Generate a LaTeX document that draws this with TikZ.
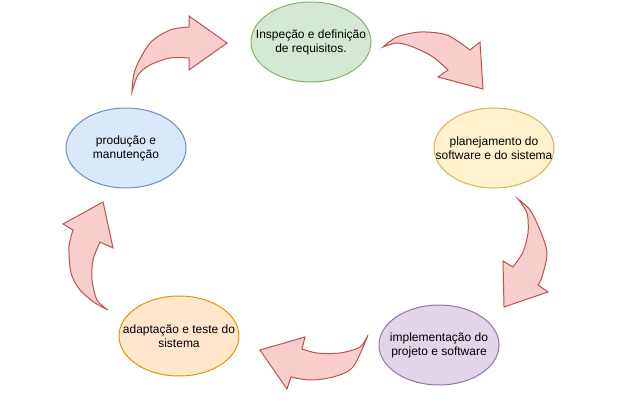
\documentclass[tikz,border=0pt]{standalone}
\usepackage{fontspec}
\setmainfont{Liberation Sans}
\usepackage{xcolor}
\usepackage{tikz}
\usetikzlibrary{shapes}
\usetikzlibrary{shapes.geometric}

\definecolor{greenfill}{HTML}{D5E8D4}
\definecolor{greenline}{HTML}{82B366}
\definecolor{yellowfill}{HTML}{FFF2CC}
\definecolor{yellowline}{HTML}{D6B656}
\definecolor{purplefill}{HTML}{E1D5E7}
\definecolor{purpleline}{HTML}{9673A6}
\definecolor{orangefill}{HTML}{FFE6CC}
\definecolor{orangeline}{HTML}{D79B00}
\definecolor{bluefill}{HTML}{DAE8FC}
\definecolor{blueline}{HTML}{6C8EBF}
\definecolor{arrowfill}{HTML}{F8CECC}
\definecolor{arrowline}{HTML}{B85450}

\begin{document}
\begin{tikzpicture}[
	x=0.75pt, y=-0.75pt,
	line width=0.75pt,
	font=\fontsize{9}{10.5}\selectfont
]
\tikzset{
    phase/.style = {ellipse, draw, inner sep=0pt, minimum width=90pt, minimum height=60pt},
    phasetext/.style = {align=center, inner sep=0pt},
    bigarrow/.style = {fill=arrowfill, draw=arrowline, line join=miter}
}
\useasboundingbox (0,0) rectangle (635,403);
% fases
\node[phase,fill=greenfill,draw=greenline] (inspecao) at (311,42) {};
\node[phasetext] at (inspecao) {Inspeção e definição\\de requisitos.};
\node[phase,fill=yellowfill,draw=yellowline] (planejamento) at (494,148) {};
\node[phasetext] at (planejamento) {planejamento do\\software e do sistema};
\node[phase,fill=purplefill,draw=purpleline] (implementacao) at (439,345) {};
\node[phasetext] at (implementacao) {implementação do\\projeto e software};
\node[phase,fill=orangefill,draw=orangeline] (adaptacao) at (179,336) {};
\node[phasetext] at (adaptacao) {adaptação e teste do\\sistema};
\node[phase,fill=bluefill,draw=blueline] (producao) at (126,148) {};
\node[phasetext] at (producao) {produção e\\manutenção};
% setas curvas
\filldraw[bigarrow] plot[smooth] coordinates {(132,92) (135,70) (150,43) (170,30) (189,27)}
    -- (189,16) -- (227,43) -- (189,70)
    -- plot[smooth] coordinates {(189,58) (170,58) (150,65) (138,75) (132,92)} -- cycle;
\filldraw[bigarrow] plot[smooth] coordinates {(383,47) (397,37) (420,32) (447,35) (470,50)}
    -- (480,42) -- (483,89) -- (438,77)
    -- plot[smooth] coordinates {(448,70) (433,57) (413,47) (397,43) (383,47)} -- cycle;
\filldraw[bigarrow] plot[smooth] coordinates {(518,199) (530,210) (540,230) (547,253) (542,277) (538,285)}
    -- (548,292) -- (504,307) -- (503,261)
    -- plot[smooth] coordinates {(513,267) (523,252) (528,233) (527,213) (518,199)} -- cycle;
\filldraw[bigarrow] plot[smooth] coordinates {(368,335) (360,347) (340,353) (317,353) (302,349)}
    -- (305,337) -- (260,350) -- (287,389)
    -- plot[smooth] coordinates {(291,377) (310,380) (333,377) (353,367) (368,335)} -- cycle;
\filldraw[bigarrow] plot[smooth] coordinates {(100,242) (93,260) (92,280) (97,300) (108,310)}
    -- plot[smooth] coordinates {(108,310) (95,303) (80,290) (71,273) (69,247) (73,230)}
    -- (63,224) -- (103,202) -- (113,248) -- cycle;
\end{tikzpicture}
\end{document}
